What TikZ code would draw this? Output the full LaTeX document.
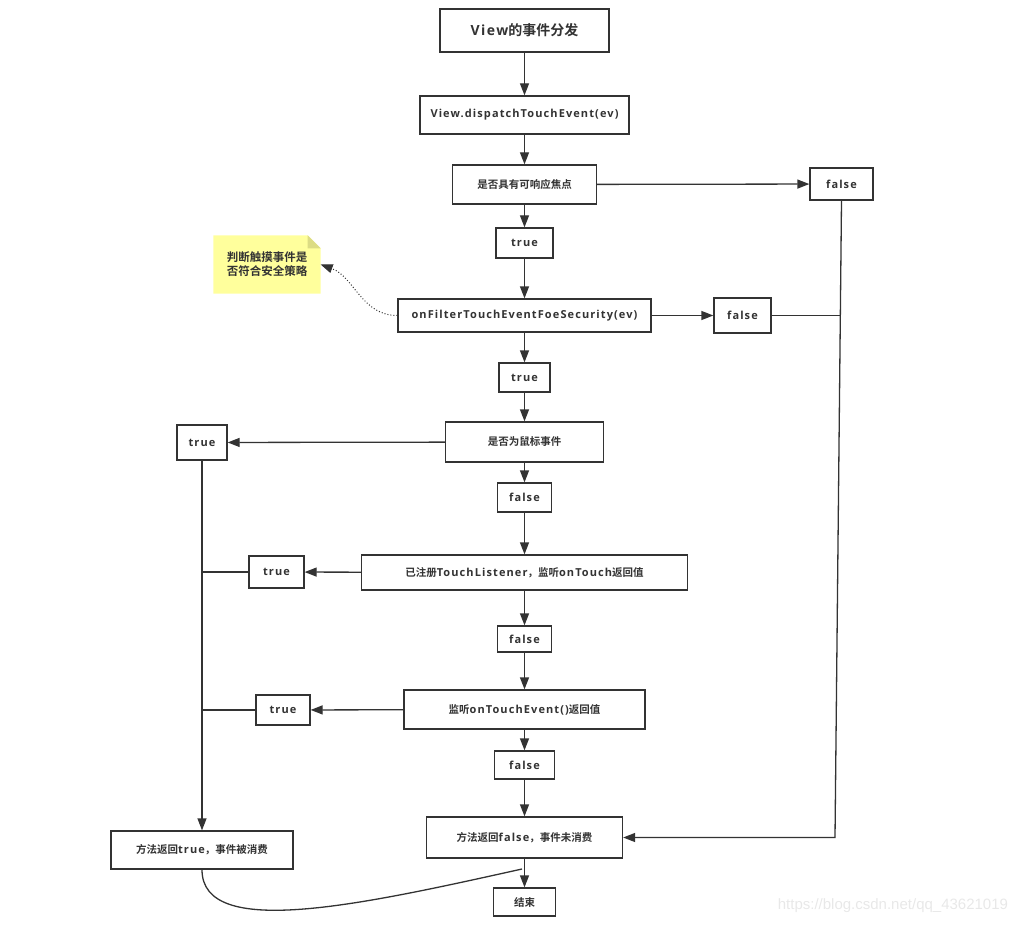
\documentclass[tikz,border=0pt]{standalone}
\usepackage{fontspec}
\setmainfont{Noto Sans CJK SC}[BoldFont={Noto Sans CJK SC Bold}]
\newfontfamily\latfont{Open Sans}[LetterSpace=10]
\newfontfamily\urlfont{Liberation Sans}
\newcommand\lat[1]{{\latfont\bfseries\fontsize{11}{12}\selectfont #1}}
\newcommand\bigLat[1]{{\latfont\bfseries #1}}
\usetikzlibrary{arrows.meta,backgrounds}

\begin{document}
\begin{tikzpicture}[x=1pt, y=1pt, line width=1.3pt, >={Triangle[length=12pt,width=9pt]},
		box/.style={draw=linecolor, fill=white, text=linecolor, inner sep=0pt, font=\bfseries\fontsize{10.5}{12}\selectfont},
		flow/.style={->, draw=linecolor}]
	\definecolor{linecolor}{HTML}{333333}
	\definecolor{notefill}{HTML}{FFFF9C}
	\definecolor{notefold}{HTML}{DCDC84}
	\useasboundingbox (0, 0) rectangle (1022, -925);

	% main column
	\node[box, minimum width=169, minimum height=43, font=\bfseries\fontsize{14}{16}\selectfont] (title) at (524.5, -30.5) {\bigLat{View}的事件分发};
	\node[box, minimum width=209, minimum height=38] (dispatch) at (524.5, -115) {\lat{View.dispatchTouchEvent(ev)}};
	\node[box, minimum width=144, minimum height=39] (focus) at (524.5, -184.5) {是否具有可响应焦点};
	\node[box, minimum width=57, minimum height=30] (true1) at (524.5, -243) {\lat{true}};
	\node[box, minimum width=253, minimum height=33] (filter) at (524.5, -315.5) {\lat{onFilterTouchEventFoeSecurity(ev)}};
	\node[box, minimum width=51, minimum height=29] (true2) at (524.5, -377.5) {\lat{true}};
	\node[box, minimum width=158, minimum height=40] (mouse) at (524.5, -442) {是否为鼠标事件};
	\node[box, minimum width=54, minimum height=29] (false3) at (524.5, -497.5) {\lat{false}};
	\node[box, minimum width=326, minimum height=35] (listener) at (524.5, -572.5) {已注册\lat{TouchListener}，监听\lat{onTouch}返回值};
	\node[box, minimum width=54, minimum height=26] (false4) at (524.5, -639) {\lat{false}};
	\node[box, minimum width=241, minimum height=39] (touchev) at (524.5, -709.5) {监听\lat{onTouchEvent()}返回值};
	\node[box, minimum width=60, minimum height=28] (false5) at (524.5, -765) {\lat{false}};
	\node[box, minimum width=196, minimum height=41] (retfalse) at (524.5, -837.5) {方法返回\lat{false}，事件未消费};
	\node[box, minimum width=62, minimum height=28] (finish) at (524.5, -902) {结束};

	% side branches
	\node[box, minimum width=63, minimum height=32] (false1) at (841.5, -184) {\lat{false}};
	\node[box, minimum width=57, minimum height=35] (false2) at (742.5, -315.5) {\lat{false}};
	\node[box, minimum width=50, minimum height=35] (true3) at (202, -442.5) {\lat{true}};
	\node[box, minimum width=55, minimum height=32] (true4) at (276.5, -572) {\lat{true}};
	\node[box, minimum width=54, minimum height=30] (true5) at (283, -710) {\lat{true}};
	\node[box, minimum width=182, minimum height=38] (rettrue) at (202, -850) {方法返回\lat{true}，事件被消费};

	% note
	\node[text=linecolor, minimum width=106, minimum height=57, inner sep=0pt, align=center,
		font=\bfseries\fontsize{11.5}{14}\selectfont] (note) at (267, -264.5) {判断触摸事件是\\否符合安全策略};
	\begin{scope}[on background layer]
		\fill[notefill] (note.north west) -- ([xshift=-13]note.north east) -- ([yshift=-13]note.north east)
			-- (note.south east) -- (note.south west) -- cycle;
		\fill[notefold] ([xshift=-13]note.north east) -- ([xshift=-13, yshift=-13]note.north east) -- ([yshift=-13]note.north east) -- cycle;
	\end{scope}

	\coordinate (rightcorner) at (835, -837.5);
	\coordinate (rightjoin) at (840, -315.5);
	\coordinate (leftjoin4) at (202, -572);
	\coordinate (leftjoin5) at (202, -710);
	\coordinate (merge) at (522, -869);

	\begin{scope}[flow]
		\draw (title) -- (dispatch);
		\draw (dispatch) -- (focus);
		\draw (focus) -- (true1);
		\draw (true1) -- (filter);
		\draw (filter) -- (true2);
		\draw (true2) -- (mouse);
		\draw (mouse) -- (false3);
		\draw (false3) -- (listener);
		\draw (listener) -- (false4);
		\draw (false4) -- (touchev);
		\draw (touchev) -- (false5);
		\draw (false5) -- (retfalse);
		\draw (retfalse) -- (finish);
		\draw (focus) -- (false1);
		\draw (filter) -- (false2);
		\draw (mouse) -- (true3);
		\draw (listener) -- (true4);
		\draw (touchev) -- (true5);
		\draw (true3) -- (rettrue);
		\draw (false1.south) -- (rightcorner) -- (retfalse.east);
		\draw[dotted, line width=1pt, -{Triangle[length=12pt,width=9pt,sep=0pt]}] (filter.west) to[out=180, in=-20] (note.east);
	\end{scope}
	\begin{scope}[draw=linecolor]
		\draw (false2.east) -- (rightjoin);
		\draw (true4.west) -- (leftjoin4);
		\draw (true5.west) -- (leftjoin5);
		\draw (rettrue.south) .. controls (202, -940) and (360, -905) .. (merge);
	\end{scope}

	\node[text=black!9, font=\urlfont\fontsize{15}{17}\selectfont, anchor=east] (watermark) at (1012, -906) {https://blog.csdn.net/qq\_43621019};
\end{tikzpicture}
\end{document}
